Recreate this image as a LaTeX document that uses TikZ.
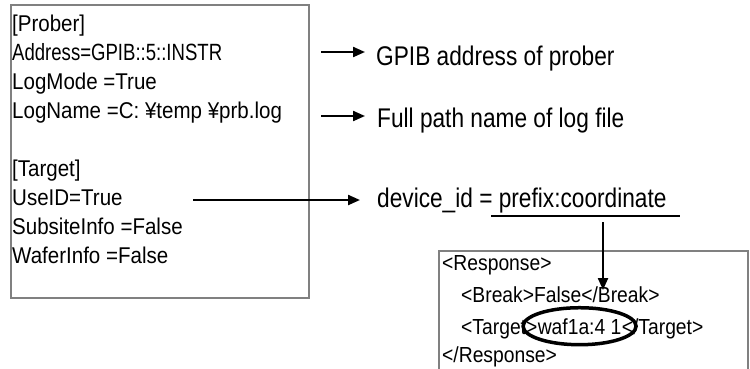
\documentclass[tikz,border=0pt]{standalone}
\usepackage{fontspec}
\setmainfont{Liberation Sans}[FakeStretch=0.84]
\newfontfamily\cfgfont{Liberation Sans}[FakeStretch=0.9]
\newfontfamily\capsfont{Liberation Sans}[FakeStretch=0.79]
\newfontfamily\xmlfont{Liberation Sans}[FakeStretch=0.885]
\usetikzlibrary{arrows.meta,shapes.geometric}

\tikzset{
  cfg/.style={anchor=base west, inner sep=0pt, font=\cfgfont\fontsize{22.8}{27}\selectfont},
  lbl/.style={anchor=base west, inner sep=0pt, font=\fontsize{27}{31}\selectfont},
  xml/.style={anchor=base west, inner sep=0pt, font=\xmlfont\fontsize{21.8}{26}\selectfont},
  panel/.style={draw=black!50, line width=1.8pt},
  pointer/.style={line width=2.2pt, -{Triangle[length=12pt,width=10pt]}},
  ring/.style={ellipse, draw, line width=3.5pt, minimum width=113pt, minimum height=37pt, inner sep=0pt},
}

\begin{document}
\begin{tikzpicture}[x=1pt,y=-1pt]
  \useasboundingbox (0,0) rectangle (750,368);
  \fill[white] (0,0) rectangle (750,368);
  \clip (0,0) rectangle (750,368);

  % settings file
  \draw[panel] (11,5) rectangle (309,298);
  \node[cfg] (prober)  at (12,31)  {[Prober]};
  \node[cfg] (addr)    at (12,60)  {\capsfont\fontsize{23.5}{27}\selectfont Address=GPIB::5::INSTR};
  \node[cfg] (logmode) at (12,89)  {LogMode =True};
  \node[cfg] (logname) at (12,118) {LogName =C: ¥temp ¥prb.log};
  \node[cfg] (target)  at (12,176) {[Target]};
  \node[cfg] (useid)   at (12,205) {UseID=True};
  \node[cfg] (subsite) at (12,234) {SubsiteInfo =False};
  \node[cfg] (wafer)   at (12,263) {WaferInfo =False};

  % explanations
  \node[lbl] (gpib)  at (376,65)  {GPIB address of prober};
  \node[lbl] (path)  at (377,127) {Full path name of log file};
  \node[lbl] (devid) at (377,207) {device\_id = prefix:coordinate};

  \coordinate (gTail) at (321,52);
  \coordinate (pTail) at (321,116);
  \coordinate (uTail) at (193,200);
  \draw[pointer, shorten >=11pt] (gTail) -- (gTail -| gpib.west);
  \draw[pointer, shorten >=12pt] (pTail) -- (pTail -| path.west);
  \draw[pointer, shorten >=17pt] (uTail) -- (uTail -| devid.west);

  % underline of the id format
  \coordinate (ulA) at (491,216);
  \coordinate (ulB) at (680,216);
  \draw[line width=1.8pt] (ulA) -- (ulB);

  % response text
  \draw[panel] (439,380) -- (439,251) -- (748,251) -- (748,380);
  \node[xml] (resp)     at (442,270.5) {<Response>};
  \node[xml] (brk)      at (461,302)   {<Break>False</Break>};
  \node[xml] (tgtOpen)  at (461,334)   {<Target>};
  \node[xml] (wafId)    at (tgtOpen.base east) {waf1a:4 1};
  \node[xml] (tgtClose) at (wafId.base east) {</Target>};
  \node[xml] (respE)    at (442,362.5) {</Response>};

  \node[ring] (hl) at (wafId.center) {};

  \coordinate (drop) at (603,222);
  \coordinate (dropTip) at (603,290);
  \draw[pointer] (drop) -- (dropTip);
\end{tikzpicture}
\end{document}
